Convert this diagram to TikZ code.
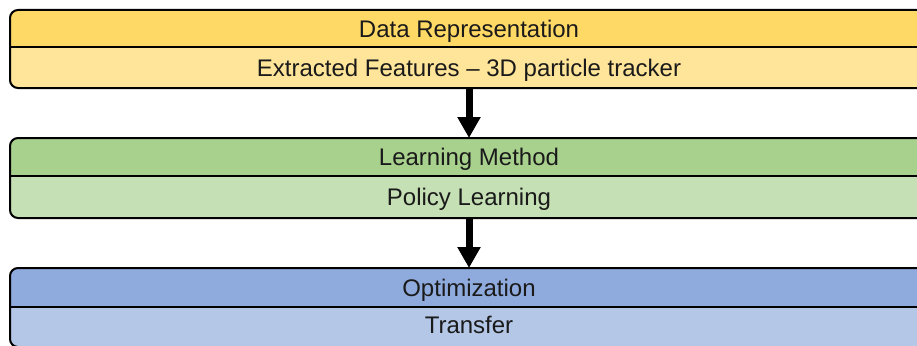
\documentclass[tikz,border=0pt]{standalone}
\usepackage{fontspec}
\setmainfont{Liberation Sans}
\usetikzlibrary{arrows.meta}

\definecolor{yelH}{HTML}{FFD966}
\definecolor{yelB}{HTML}{FFE599}
\definecolor{grnH}{HTML}{A9D18E}
\definecolor{grnB}{HTML}{C5E0B4}
\definecolor{bluH}{HTML}{8FAADC}
\definecolor{bluB}{HTML}{B4C7E7}
\definecolor{ink}{HTML}{1A1A1A}

\tikzset{
  sect/.style={rectangle, inner sep=0pt, minimum width=918pt,
    text=ink, font=\fontsize{24}{28}\selectfont,
    text height=17.2pt, text depth=0pt},
  outline/.style={draw=black, line width=2pt, rounded corners=8pt},
  divider/.style={draw=black, line width=2pt},
  flow/.style={draw=black, line width=7pt,
    -{Triangle[width=22pt,length=21pt]}, shorten >=0pt}
}

\begin{document}
\begin{tikzpicture}[x=1pt, y=1pt]
  \useasboundingbox (0,0) rectangle (917,-345);

  % layer 1: data representation
  \begin{scope}
    \clip[rounded corners=8pt] (10,-10) rectangle (928,-88);
    \fill[yelH] (10,-10) rectangle (928,-47);
    \fill[yelB] (10,-47) rectangle (928,-88);
  \end{scope}
  \node[sect] (h1) at (469,-28.5) {Data Representation};
  \node[sect] (b1) at (469,-67.5) {Extracted Features – 3D particle tracker};
  \draw[outline] (10,-10) rectangle (928,-88);
  \draw[divider] (10,-47) -- (928,-47);
  \coordinate (b1s) at (469,-88);

  % layer 2: learning method
  \begin{scope}
    \clip[rounded corners=8pt] (10,-138) rectangle (928,-218);
    \fill[grnH] (10,-138) rectangle (928,-176);
    \fill[grnB] (10,-176) rectangle (928,-218);
  \end{scope}
  \node[sect] (h2) at (469,-157) {Learning Method};
  \node[sect] (b2) at (469,-196.5) {Policy Learning};
  \draw[outline] (10,-138) rectangle (928,-218);
  \draw[divider] (10,-176) -- (928,-176);
  \coordinate (h2n) at (469,-138);
  \coordinate (b2s) at (469,-218);

  % layer 3: optimization
  \begin{scope}
    \clip[rounded corners=8pt] (10,-268) rectangle (928,-347);
    \fill[bluH] (10,-268) rectangle (928,-307);
    \fill[bluB] (10,-307) rectangle (928,-347);
  \end{scope}
  \node[sect] (h3) at (469,-288) {Optimization};
  \node[sect] (b3) at (469,-325) {Transfer};
  \draw[outline] (10,-268) rectangle (928,-347);
  \draw[divider] (10,-307) -- (928,-307);
  \coordinate (h3n) at (469,-268);

  % connectors between layers
  \draw[flow] (b1s) -- (h2n);
  \draw[flow] (b2s) -- (h3n);
\end{tikzpicture}
\end{document}
